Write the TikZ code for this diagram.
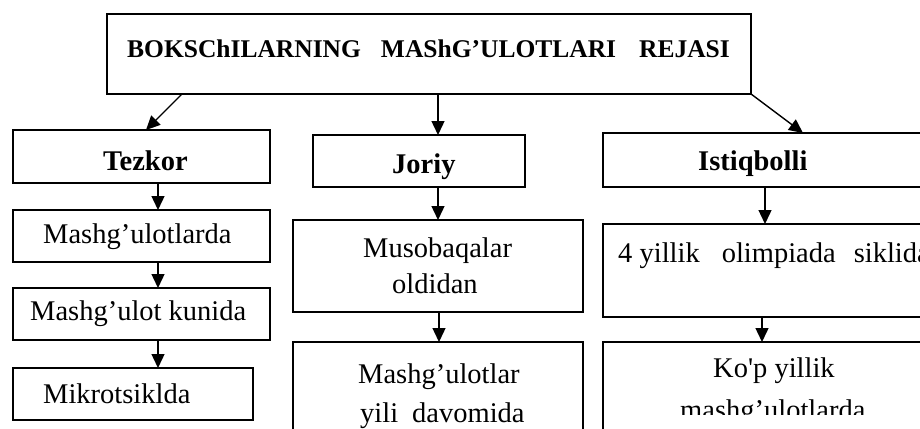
\documentclass[tikz,border=0pt]{standalone}
\usepackage{fontspec}
\setmainfont{Liberation Serif}
\usetikzlibrary{arrows.meta}
\begin{document}
\begin{tikzpicture}[x=1pt,y=-1pt,
  box/.style={draw, line width=1.4pt, inner sep=0pt, outer sep=0pt, anchor=north west},
  txt/.style={inner sep=0pt, anchor=base west, font=\fontsize{28.5}{34}\selectfont},
  btxt/.style={inner sep=0pt, anchor=base west, font=\fontsize{28.5}{34}\selectfont\bfseries},
  ttl/.style={inner sep=0pt, anchor=base west, font=\fontsize{25.5}{30}\selectfont\bfseries},
  arr/.style={line width=1.4pt, -{Triangle[length=14pt,width=13pt]}}]
\useasboundingbox (0,0) rectangle (920,428);
\clip (0,0) rectangle (920,428);
% boxes
\node[box, minimum width=644pt, minimum height=80pt] (top) at (107,14) {};
\node[box, minimum width=257pt, minimum height=53pt] (tezkor) at (13,130) {};
\node[box, minimum width=257pt, minimum height=52pt] (m1) at (13,210) {};
\node[box, minimum width=257pt, minimum height=52pt] (m2) at (13,288) {};
\node[box, minimum width=240pt, minimum height=52pt] (m3) at (13,368) {};
\node[box, minimum width=212pt, minimum height=52pt] (joriy) at (313,135) {};
\node[box, minimum width=290pt, minimum height=92pt] (j1) at (293,220) {};
\node[box, minimum width=290pt, minimum height=110pt] (j2) at (293,342) {};
\node[box, minimum width=340pt, minimum height=54pt] (ist) at (603,133) {};
\node[box, minimum width=340pt, minimum height=93pt] (i1) at (603,224) {};
\node[box, minimum width=340pt, minimum height=110pt] (i2) at (603,342) {};
% texts
\node[ttl] (t-top) at (127,58) {BOKSChILARNING\hspace{20pt}MAShG’ULOTLARI\hspace{23pt}REJASI};
\node[btxt] (t-tezkor) at (103,170) {Tezkor};
\node[btxt] (t-joriy) at (392,173) {Joriy};
\node[btxt] (t-ist) at (698,170) {Istiqbolli};
\node[txt] (t-m1) at (43,243) {Mashg’ulotlarda};
\node[txt] (t-m2) at (30,320) {Mashg’ulot kunida};
\node[txt] (t-m3) at (43,403) {Mikrotsiklda};
\node[txt] (t-j1a) at (363,257) {Musobaqalar};
\node[txt] (t-j1b) at (392,293) {oldidan};
\node[txt] (t-j2a) at (358,383) {Mashg’ulotlar};
\node[txt] (t-j2b) at (360,422) {yili\hspace{14pt}davomida};
\node[txt] (t-i1) at (618,262) {4 yillik\hspace{22pt}olimpiada\hspace{18pt}siklida};
\node[txt] (t-i2a) at (713,377) {Ko\textquotesingle p yillik};
\begin{scope}
\clip (603,342) rectangle (940,414);
\node[txt] (t-i2b) at (680,419) {mashg’ulotlarda};
\end{scope}
% arrows
\draw[arr] (top.south -| 182,0) -- (tezkor.north -| 146,0);
\draw[arr] (top.south -| 438,0) -- (joriy.north -| 438,0);
\draw[arr] (top.south east) -- (ist.north -| 803,0);
\draw[arr] (tezkor.south -| 158,0) -- (m1.north -| 158,0);
\draw[arr] (m1.south -| 158,0) -- (m2.north -| 158,0);
\draw[arr] (m2.south -| 158,0) -- (m3.north -| 158,0);
\draw[arr] (joriy.south -| 438,0) -- (j1.north -| 438,0);
\draw[arr] (j1.south -| 439,0) -- (j2.north -| 439,0);
\draw[arr] (ist.south -| 765,0) -- (i1.north -| 765,0);
\draw[arr] ([yshift=-1pt]i1.south -| 762,0) -- (i2.north -| 762,0);
\end{tikzpicture}
\end{document}
